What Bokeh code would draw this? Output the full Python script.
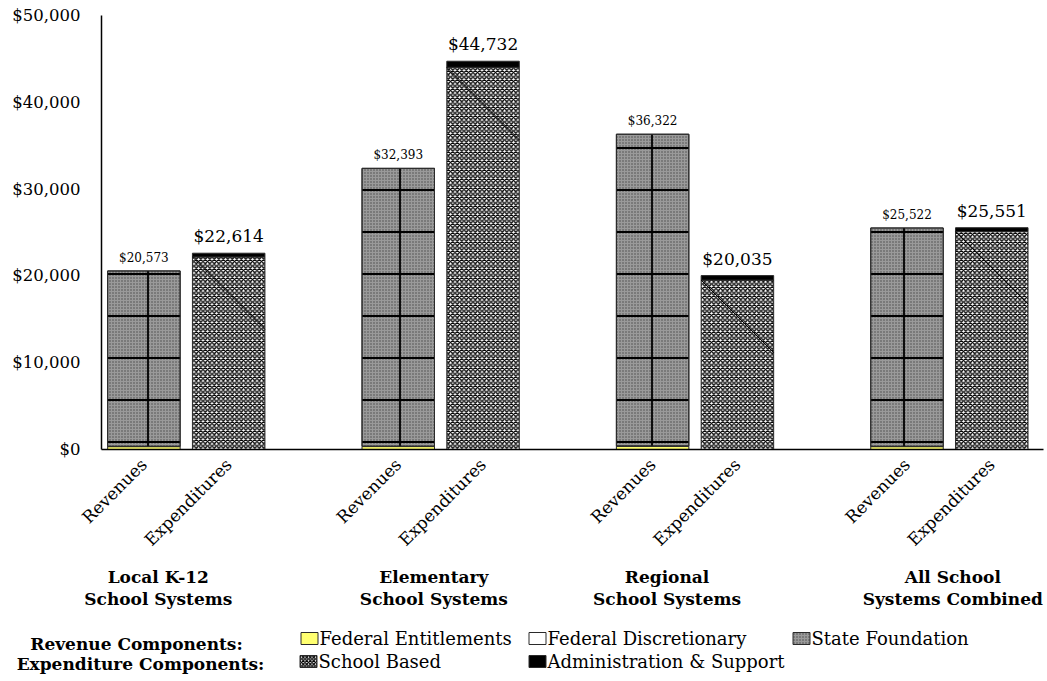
import math

from bokeh.core.properties import value
from bokeh.embed import file_html
from bokeh.layouts import column
from bokeh.models import (ColumnDataSource, FixedTicker, LinearAxis,
                          NumeralTickFormatter, Range1d)
from bokeh.plotting import figure
from bokeh.resources import INLINE

# ---- data -------------------------------------------------------------
systems = ["Local K-12\nSchool Systems", "Elementary\nSchool Systems",
           "Regional\nSchool Systems", "All School\nSystems Combined"]
bar_kinds = ["Revenues", "Expenditures"]

revenue_totals = [20573, 32393, 36322, 25522]
federal_entitlements = [330, 340, 380, 330]
federal_discretionary = [40, 40, 30, 40]

expenditure_totals = [22614, 44732, 20035, 25551]
admin_support = [430, 700, 520, 450]

y_ticks = [0, 10000, 20000, 30000, 40000, 50000]

revenue_components = ["Federal Entitlements", "Federal Discretionary", "State Foundation"]
expenditure_components = ["School Based", "Administration & Support"]

state_foundation = [t - a - b for t, a, b in
                    zip(revenue_totals, federal_entitlements, federal_discretionary)]
school_based = [t - a for t, a in zip(expenditure_totals, admin_support)]

# ---- styling ----------------------------------------------------------
SERIF = "DejaVu Serif"
YELLOW = "#ffff70"
STATE_GRAY = "#9a9a9a"
EDGE = "#2a2a2a"

W, H_CHART, H_LEG = 1047, 620, 61
LEFT, TOP, RIGHT, BOTTOM = 101, 15, 4, 171
X_END = 11.11
BAR_W = 0.855

STATE_HATCH = dict(hatch_color="#4a4a4a", hatch_scale=3, hatch_weight=1)
SCHOOL_HATCH = dict(hatch_color="black", hatch_scale=4.5, hatch_weight=1.35)

# three slots per system: revenue, expenditure, gap
rev_x = [3 * i + 0.5 for i in range(len(systems))]
exp_x = [3 * i + 1.5 for i in range(len(systems))]
group_label_x = [0.67, 3.92, 6.67, 10.04]

p = figure(width=W, height=H_CHART, x_range=Range1d(0, X_END),
           y_range=Range1d(0, 50000), output_backend="svg",
           toolbar_location=None, min_border_left=LEFT, min_border_top=TOP,
           min_border_right=RIGHT, min_border_bottom=BOTTOM)
p.xgrid.visible = False
p.ygrid.visible = False
p.outline_line_color = None
p.background_fill_color = "white"
p.border_fill_color = "white"

# y axis
yax = p.yaxis[0]
yax.ticker = FixedTicker(ticks=y_ticks)
yax.formatter = NumeralTickFormatter(format="$0,0")
yax.major_tick_line_color = None
yax.minor_tick_line_color = None
yax.axis_line_color = "black"
yax.axis_line_width = 1.5
yax.major_label_text_font = SERIF
yax.major_label_text_font_size = "16.5px"
yax.major_label_text_color = "black"
yax.major_label_standoff = 15

# x axis: bar kind labels, rotated
xax = p.xaxis[0]
xax.ticker = FixedTicker(ticks=rev_x + exp_x)
overrides = {x: bar_kinds[0] for x in rev_x}
overrides.update({x: bar_kinds[1] for x in exp_x})
xax.major_label_overrides = overrides
xax.major_label_orientation = math.pi / 4
xax.major_tick_line_color = None
xax.minor_tick_line_color = None
xax.axis_line_color = "black"
xax.axis_line_width = 1.5
xax.major_label_text_font = SERIF
xax.major_label_text_font_size = "17px"
xax.major_label_text_color = "black"
xax.major_label_standoff = 6

# second axis: system names
gax = LinearAxis(ticker=FixedTicker(ticks=group_label_x),
                 major_label_overrides=dict(zip(group_label_x, systems)))
gax.axis_line_color = None
gax.major_tick_line_color = None
gax.minor_tick_line_color = None
gax.major_label_text_font = SERIF
gax.major_label_text_font_style = "bold"
gax.major_label_text_font_size = "17px"
gax.major_label_text_color = "black"
gax.major_label_text_line_height = 1.1
gax.major_label_orientation = "horizontal"
gax.major_label_standoff = 1
p.add_layout(gax, "below")

# ---- revenue bars ------------------------------------------------------
rev_src = ColumnDataSource(dict(
    x=rev_x, fed_ent=federal_entitlements, fed_disc=federal_discretionary,
    state=state_foundation, total=revenue_totals,
    state_bottom=[a + b for a, b in zip(federal_entitlements, federal_discretionary)],
))
p.vbar_stack(["fed_ent", "fed_disc", "state"], x="x", width=BAR_W, source=rev_src,
             fill_color=[YELLOW, "white", STATE_GRAY],
             hatch_pattern=[" ", " ", "."], line_color=EDGE, line_width=1,
             **STATE_HATCH)
# coarse grid texture on the state foundation block
p.vbar(x="x", bottom="state_bottom", top="total", width=BAR_W, source=rev_src,
       fill_alpha=0, line_color=None, hatch_pattern="+", hatch_scale=42,
       hatch_weight=1.8, hatch_color="black")
p.vbar(x="x", bottom="state_bottom", top="total", width=BAR_W, source=rev_src,
       fill_alpha=0, line_color=EDGE, line_width=1)

# ---- expenditure bars --------------------------------------------------
exp_src = ColumnDataSource(dict(x=exp_x, school=school_based, admin=admin_support,
                                total=expenditure_totals))
p.vbar_stack(["school", "admin"], x="x", width=BAR_W, source=exp_src,
             fill_color=["white", "black"], hatch_pattern=["x", " "],
             line_color=EDGE, line_width=1, **SCHOOL_HATCH)

# thin diagonal stroke across each school-based block
frame_w = W - LEFT - RIGHT
frame_h = H_CHART - TOP - BOTTOM
px_x = frame_w / X_END
px_y = frame_h / 50000
drop = BAR_W * px_x / px_y
p.segment(x0=[x - BAR_W / 2 for x in exp_x], y0=school_based,
          x1=[x + BAR_W / 2 for x in exp_x], y1=[s - drop for s in school_based],
          line_color="black", line_width=1)

# ---- value labels ------------------------------------------------------
p.text(x=rev_x, y=revenue_totals, text=[f"${v:,}" for v in revenue_totals],
       text_align="center", text_baseline="alphabetic", y_offset=-13,
       text_font=value(SERIF), text_font_size="12px", text_color="black")
p.text(x=exp_x, y=expenditure_totals, text=[f"${v:,}" for v in expenditure_totals],
       text_align="center", text_baseline="alphabetic", y_offset=-17,
       text_font=value(SERIF), text_font_size="17px", text_color="black")

# ---- legend panel ------------------------------------------------------
# x coordinates in this panel are canvas pixels (frame shares the chart's edges)
lg = figure(width=W, height=H_LEG, x_range=Range1d(LEFT, W - RIGHT),
            y_range=Range1d(H_LEG, 0), output_backend="svg", toolbar_location=None,
            x_axis_location=None, y_axis_location=None,
            min_border_left=LEFT, min_border_right=RIGHT,
            min_border_top=0, min_border_bottom=0)
lg.xgrid.visible = False
lg.ygrid.visible = False
lg.outline_line_color = None

lg.text(x=[136, 140], y=[23, 43],
        text=["Revenue Components:", "Expenditure Components:"],
        text_align="center", text_baseline="middle", text_font=value(SERIF),
        text_font_style="bold", text_font_size="17px", text_color="black",
        level="overlay")

sw_x = [309, 537, 801, 308, 537]
sw_y = [18, 18, 18, 41, 41]
names = revenue_components + expenditure_components
fills = [YELLOW, "white", STATE_GRAY, "white", "black"]
hatches = [" ", " ", ".", "x", " "]
for sx, sy, f, h in zip(sw_x, sw_y, fills, hatches):
    style = STATE_HATCH if h == "." else dict(SCHOOL_HATCH, hatch_scale=3.5)
    lg.rect(x=[sx], y=[sy], width=17, height=12, fill_color=f, line_color=EDGE,
            line_width=1, hatch_pattern=h, **style)
lg.text(x=[sx + 10 for sx in sw_x], y=sw_y, text=names, text_align="left",
        text_baseline="middle", text_font=value(SERIF), text_font_size="18px",
        text_color="black")

layout = column(p, lg, spacing=0)
open("out.html", "w").write(file_html(layout, INLINE))
